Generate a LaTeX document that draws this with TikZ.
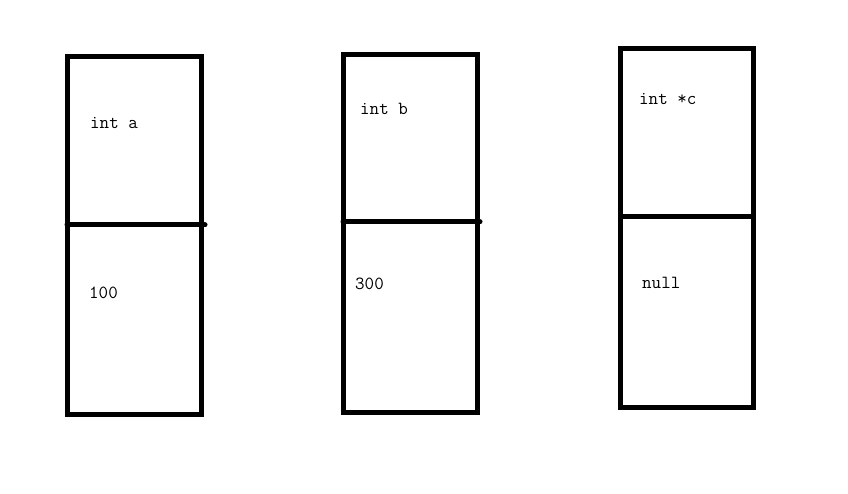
\documentclass[tikz,border=0pt]{standalone}
\usepackage{tikz}
\usetikzlibrary{positioning}

\tikzset{
  cell/.style={line width=5pt, line cap=round},
  var/.style={anchor=west, inner sep=0pt, font=\ttfamily\fontsize{18.5}{18.5}\selectfont}
}

\begin{document}
\begin{tikzpicture}[x=1pt, y=-1pt]
   \useasboundingbox (0,0) rectangle (848,494);

   % the three boxes
   \draw[cell] (67,57) rectangle (201,414);
   \draw[cell] (343,55) rectangle (477,412);
   \draw[cell] (620,49) rectangle (753,407);

   \coordinate (a1) at (67,225);  \coordinate (a2) at (205,225);
   \coordinate (b1) at (343,222); \coordinate (b2) at (480,222);
   \coordinate (c1) at (623,217); \coordinate (c2) at (753,217);
   \draw[cell] (a1) -- (a2);
   \draw[cell] (b1) -- (b2);
   \draw[cell] (c1) -- (c2);

   \node[var] (ta) at (90,123)  {int a};
   \node[var] (va) at (89,293)  {100};
   \node[var] (tb) at (360,109) {int b};
   \node[var] (vb) at (355,284) {300};
   \node[var] (tc) at (639,99)  {int *c};
   \node[var] (vc) at (642,283) {null};
\end{tikzpicture}
\end{document}
